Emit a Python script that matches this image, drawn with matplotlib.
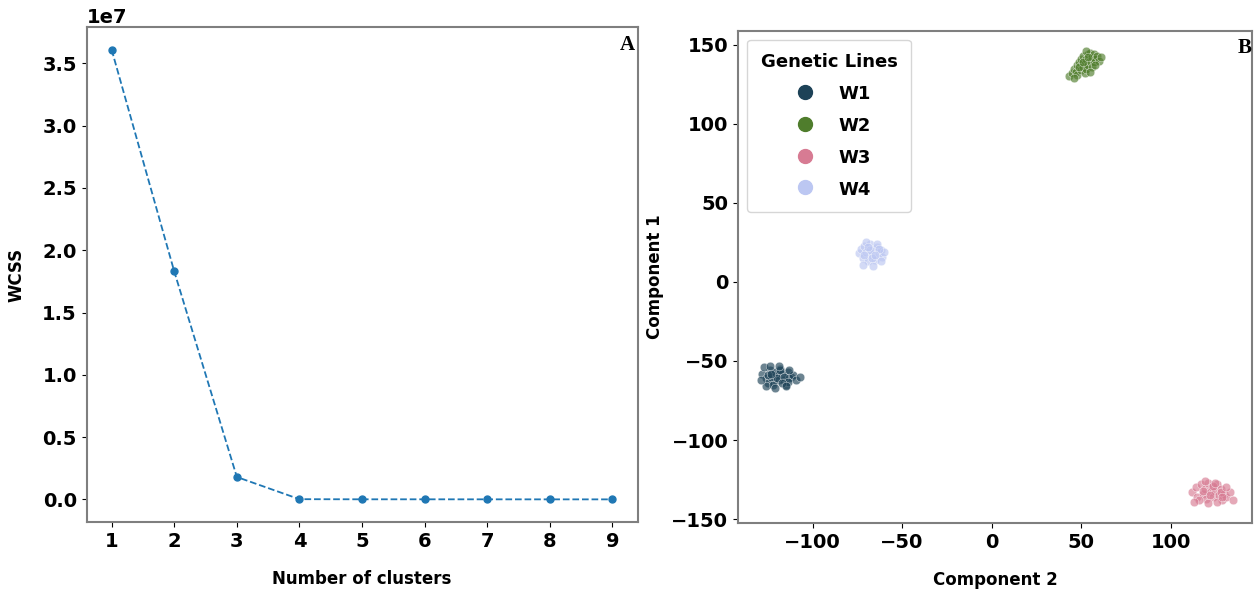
import matplotlib
matplotlib.use('Agg')
import matplotlib.pyplot as plt
from matplotlib.lines import Line2D

# elbow curve
clusters = [1, 2, 3, 4, 5, 6, 7, 8, 9]
wcss = [3.61e7, 1.83e7, 0.18e7, 0.002e7, 0.001e7, 0.001e7, 0.0008e7, 0.0006e7, 0.0005e7]

# PCA scatter
w1_x = [-128, -126, -124, -122, -120, -118, -116, -114, -112, -127, -125, -123, -121, -119, -117, -115, -113, -111,
        -126, -124, -122, -120, -118, -116, -114, -125, -121, -117, -113, -109, -107, -123, -119, -115, -129]
w1_y = [-58, -61, -56, -63, -59, -55, -62, -57, -60, -54, -64, -60, -57, -62, -58, -65, -61, -59,
        -66, -53, -65, -61, -56, -60, -63, -59, -67, -64, -56, -62, -60, -58, -53, -66, -62]
w2_x = [43, 45, 46, 47, 48, 48, 49, 50, 50, 51, 51, 52, 52, 53, 53, 54, 54, 55, 55, 56, 56, 57, 57, 58, 59, 60, 61,
        49, 53, 55, 58, 46, 51, 54]
w2_y = [130, 132, 135, 133, 137, 131, 139, 134, 141, 136, 143, 138, 132, 141, 135, 144, 137, 140, 145, 136, 142, 139,
        144, 141, 143, 140, 142, 136, 146, 133, 137, 129, 139, 142]
w3_x = [112, 114, 115, 117, 118, 119, 120, 121, 122, 123, 124, 125, 126, 127, 128, 129, 130, 131, 133, 135,
        116, 119, 121, 124, 126, 128, 131, 118, 122, 125, 129, 113]
w3_y = [-133, -130, -136, -128, -134, -131, -137, -127, -133, -130, -136, -132, -128, -135, -131, -138, -134, -136,
        -133, -138, -138, -126, -140, -129, -139, -133, -130, -132, -135, -127, -136, -139]
w4_x = [-74, -73, -72, -71, -70, -69, -68, -67, -66, -65, -64, -63, -62, -61, -60, -72, -70, -68, -66, -64, -62,
        -71, -67, -63, -69, -65]
w4_y = [18, 21, 15, 23, 19, 13, 24, 17, 21, 14, 22, 18, 20, 16, 19, 11, 25, 20, 10, 24, 13, 17, 15, 21, 22, 17]

lines = ['W1', 'W2', 'W3', 'W4']
colors = ['#1d4257', '#4f7d2c', '#d77b93', '#bcc7f2']
groups = [(w1_x, w1_y), (w2_x, w2_y), (w3_x, w3_y), (w4_x, w4_y)]

plt.rcParams['font.family'] = 'DejaVu Sans'
plt.rcParams['font.weight'] = 'bold'
spine_col = '#7f7f7f'

fig = plt.figure(figsize=(12.55, 5.91), dpi=100)
ax1 = fig.add_axes([0.069, 0.117, 0.439, 0.837])
ax2 = fig.add_axes([0.588, 0.115, 0.410, 0.833])

# A: elbow
ax1.plot(clusters, wcss, '--o', color='#1f77b4', markersize=5, linewidth=1.3)
ax1.set_xticks(clusters)
ax1.set_xlabel('Number of clusters', fontsize=12, fontweight='bold', labelpad=14)
ax1.set_ylabel('WCSS', fontsize=12, fontweight='bold', labelpad=12)
ax1.tick_params(labelsize=14)
ax1.yaxis.get_offset_text().set_fontsize(14)
ax1.text(0.995, 0.985, 'A', transform=ax1.transAxes, ha='right', va='top',
         family='Liberation Serif', fontweight='bold', fontsize=15)

# B: components
for (xs, ys), c, lab in zip(groups, colors, lines):
    ax2.scatter(xs, ys, s=38, color=c, alpha=0.65, edgecolors='white', linewidths=0.4)
ax2.set_xlim(-141.7, 145.8)
ax2.set_ylim(-152.5, 158.9)
ax2.set_xticks([-100, -50, 0, 50, 100])
ax2.set_yticks([-150, -100, -50, 0, 50, 100, 150])
ax2.set_xlabel('Component 2', fontsize=12, fontweight='bold', labelpad=14)
ax2.set_ylabel('Component 1', fontsize=12, fontweight='bold', labelpad=5)
ax2.tick_params(labelsize=14)
ax2.text(0.998, 0.985, 'B', transform=ax2.transAxes, ha='right', va='top',
         family='Liberation Serif', fontweight='bold', fontsize=15)

handles = [Line2D([], [], marker='o', linestyle='', color=c, markersize=10) for c in colors]
leg = ax2.legend(handles, lines, title='Genetic Lines', loc='upper left',
                 prop={'weight': 'bold', 'size': 13}, title_fontproperties={'weight': 'bold', 'size': 13},
                 labelspacing=0.75, handletextpad=0.9, borderpad=0.75, handleheight=1.0)
leg._legend_box.align = 'center'

for ax in (ax1, ax2):
    for sp in ax.spines.values():
        sp.set_color(spine_col)
        sp.set_linewidth(1.5)

plt.savefig('out.png', dpi=100)
